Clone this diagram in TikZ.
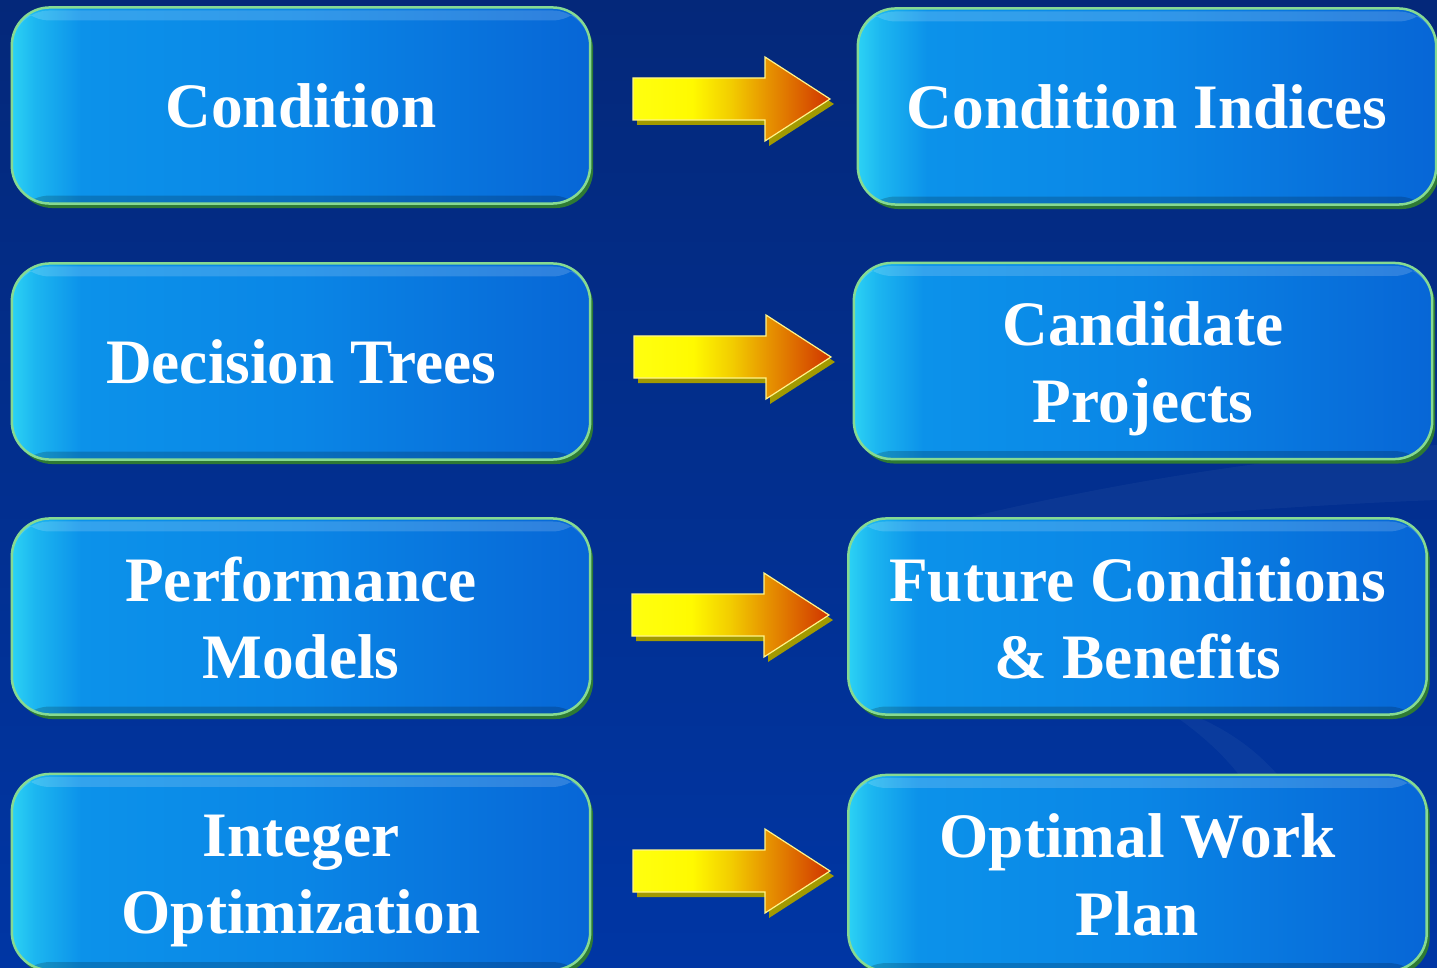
\documentclass[tikz,border=0pt]{standalone}
\usepackage{fontspec}
\setmainfont{Liberation Serif}
\usetikzlibrary{shadows,calc}
\definecolor{bgtop}{HTML}{04287A}
\definecolor{bgbot}{HTML}{0036A4}
\definecolor{bc1}{HTML}{2CD2F4}
\definecolor{bc2}{HTML}{1CB6F0}
\definecolor{bc3}{HTML}{0C92EA}
\definecolor{bc4}{HTML}{0A86E6}
\definecolor{bc5}{HTML}{0766D6}
\definecolor{boxedge}{HTML}{86DA92}
\definecolor{shadowgreen}{HTML}{2E7A34}
\definecolor{ay1}{HTML}{FFFF10}
\definecolor{ay2}{HTML}{FFFA00}
\definecolor{ay3}{HTML}{F2CC00}
\definecolor{ay4}{HTML}{E89A00}
\definecolor{ay5}{HTML}{DC6400}
\definecolor{ay6}{HTML}{D03400}
\definecolor{arrowedge}{HTML}{FFF48A}
\definecolor{arrowshadow}{HTML}{A29A00}
\pgfdeclarehorizontalshading{boxshade}{100bp}{color(0bp)=(bc1); color(25bp)=(bc1); color(27bp)=(bc2); color(31bp)=(bc3); color(50bp)=(bc4); color(75bp)=(bc5); color(100bp)=(bc5)}
\pgfdeclarehorizontalshading{arrowshade}{100bp}{color(0bp)=(ay1); color(25bp)=(ay1); color(40bp)=(ay2); color(50bp)=(ay3); color(58bp)=(ay4); color(67bp)=(ay5); color(75bp)=(ay6); color(100bp)=(ay6)}
\newcommand{\tallstrut}{\rule{0pt}{17pt}}
\newcommand{\deepstrut}{\rule[-3.6pt]{0pt}{3.6pt}}
\tikzset{
  box/.style={rounded corners=0.38cm, minimum width=5.78cm, minimum height=1.96cm,
    inner sep=0pt, shading=boxshade, draw=boxedge, line width=0.025cm,
    drop shadow={shadow xshift=0.03cm, shadow yshift=-0.045cm, fill=shadowgreen, opacity=1},
    text=white, align=center,
    font=\fontsize{18}{22}\selectfont\bfseries,
    path picture={
      \fill[white,opacity=0.16] ([yshift=-0.03cm]path picture bounding box.north west) rectangle ([yshift=-0.13cm]path picture bounding box.north east);
      \fill[black,opacity=0.18] (path picture bounding box.south west) rectangle ([yshift=0.08cm]path picture bounding box.south east);
    }},
  blockarrow/.pic={
    \fill[arrowshadow, shift={(4,5)}] (0,-21) -- (132,-21) -- (132,-42) -- (197,0) -- (132,42) -- (132,21) -- (0,21) -- cycle;
    \path[shading=arrowshade, draw=arrowedge, line width=0.012cm] (0,-21) -- (132,-21) -- (132,-42) -- (197,0) -- (132,42) -- (132,21) -- (0,21) -- cycle;
  }
}
\begin{document}
\begin{tikzpicture}[x=0.01cm,y=-0.01cm]
\useasboundingbox (0,0) rectangle (1437,967);
\shade[top color=bgtop, bottom color=bgbot] (0,0) rectangle (1437,967);
% faint background waves
\fill[white,opacity=0.04] (880,540) .. controls (1100,480) and (1300,455) .. (1437,445) -- (1437,500) .. controls (1300,505) and (1100,520) .. (880,540) -- cycle;
\fill[white,opacity=0.04] (1150,700) .. controls (1220,720) and (1260,750) .. (1290,790) -- (1250,790) .. controls (1230,760) and (1200,730) .. (1150,700) -- cycle;

\node[box] (cond)   at (301,105.5) {Condition};
\node[box] (dtree)  at (301,361.5) {Decision Trees};
\node[box] (perf)   at (301,616.5) {\tallstrut Performance\\Models\deepstrut};
\node[box] (intopt) at (301,872)   {\tallstrut Integer\\Optimization\deepstrut};

\node[box] (condidx) at (1147,106.5) {Condition Indices};
\node[box] (cand)    at (1143,361)   {\tallstrut Candidate\\Projects\deepstrut};
\node[box] (future)  at (1137.5,616.5) {\tallstrut Future Conditions\\\& Benefits\deepstrut};
\node[box] (plan)    at (1137.5,873) {\tallstrut Optimal Work\\Plan\deepstrut};

\coordinate (a1) at (633,99);
\coordinate (a2) at (634,357);
\coordinate (a3) at (632,615);
\coordinate (a4) at (633,871);
\pic at (a1) {blockarrow};
\pic at (a2) {blockarrow};
\pic at (a3) {blockarrow};
\pic at (a4) {blockarrow};
\end{tikzpicture}
\end{document}
